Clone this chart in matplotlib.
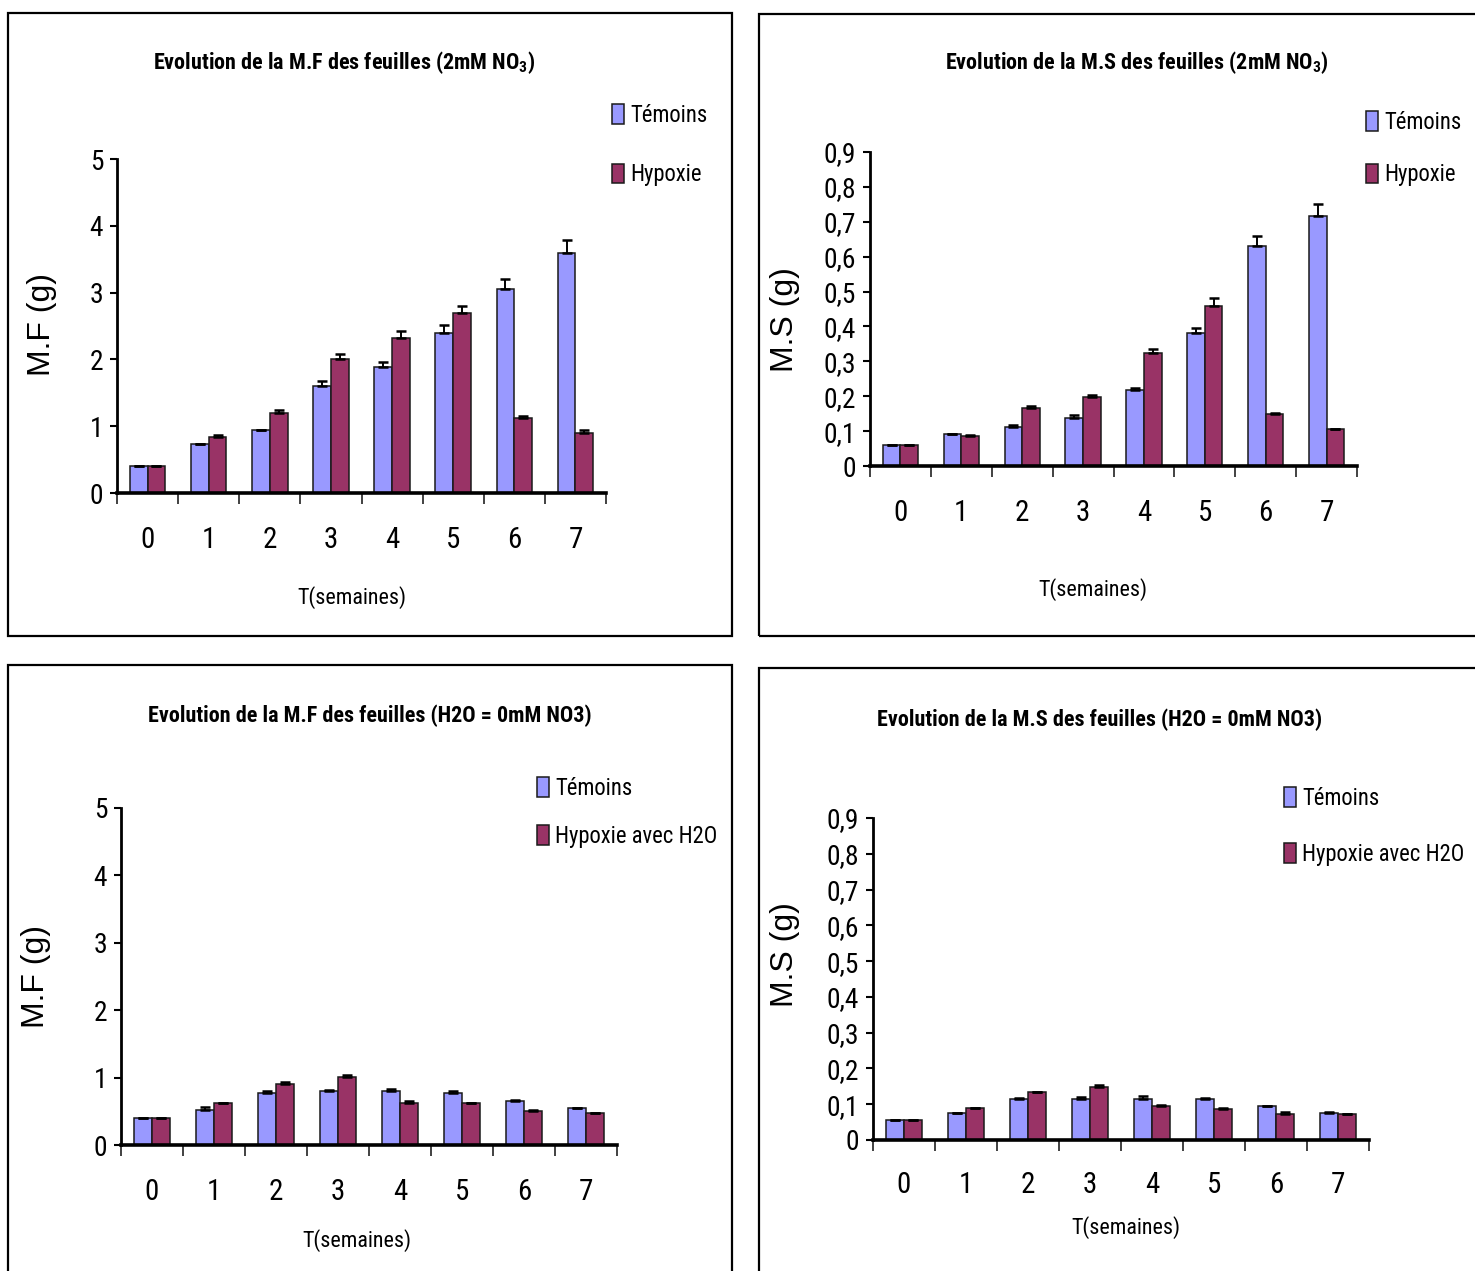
import matplotlib
matplotlib.use("Agg")
import matplotlib.pyplot as plt
import numpy as np
from matplotlib import font_manager
from matplotlib.patches import Rectangle

# ---------- font choice: a condensed sans if available ----------
names = {f.name for f in font_manager.fontManager.ttflist}
NARROW, WF = 'Liberation Sans', 1.0
for cand, wf in [('Liberation Sans Narrow', 0.82), ('Roboto Condensed', 0.86),
                 ('Open Sans Condensed', 0.84), ('Noto Sans Condensed', 0.86)]:
    if cand in names:
        NARROW, WF = cand, wf
        break
REG = 'Liberation Sans'

plt.rcParams['mathtext.fontset'] = 'custom'
plt.rcParams['mathtext.rm'] = NARROW
plt.rcParams['mathtext.bf'] = NARROW + ':bold'

# ---------------- data ----------------
weeks = ['0', '1', '2', '3', '4', '5', '6', '7']

mf_no3_temoins = [0.40, 0.73, 0.94, 1.60, 1.89, 2.39, 3.05, 3.59]
mf_no3_temoins_err = [0.0, 0.01, 0.01, 0.08, 0.07, 0.12, 0.15, 0.19]
mf_no3_hypoxie = [0.40, 0.84, 1.20, 2.00, 2.32, 2.69, 1.13, 0.905]
mf_no3_hypoxie_err = [0.0, 0.03, 0.04, 0.075, 0.11, 0.11, 0.03, 0.035]

ms_no3_temoins = [0.059, 0.091, 0.112, 0.138, 0.217, 0.381, 0.631, 0.717]
ms_no3_temoins_err = [0.0, 0.002, 0.006, 0.007, 0.006, 0.015, 0.027, 0.035]
ms_no3_hypoxie = [0.060, 0.086, 0.165, 0.198, 0.323, 0.460, 0.150, 0.105]
ms_no3_hypoxie_err = [0.0, 0.002, 0.007, 0.006, 0.012, 0.021, 0.003, 0.002]

mf_h2o_temoins = [0.40, 0.52, 0.77, 0.80, 0.80, 0.77, 0.66, 0.55]
mf_h2o_temoins_err = [0.0, 0.04, 0.03, 0.01, 0.03, 0.03, 0.01, 0.005]
mf_h2o_hypoxie = [0.40, 0.62, 0.90, 1.01, 0.62, 0.62, 0.51, 0.47]
mf_h2o_hypoxie_err = [0.0, 0.01, 0.04, 0.03, 0.04, 0.01, 0.01, 0.005]

ms_h2o_temoins = [0.056, 0.076, 0.115, 0.114, 0.115, 0.114, 0.095, 0.076]
ms_h2o_temoins_err = [0.0, 0.0, 0.002, 0.007, 0.007, 0.002, 0.001, 0.001]
ms_h2o_hypoxie = [0.056, 0.089, 0.133, 0.147, 0.095, 0.088, 0.073, 0.072]
ms_h2o_hypoxie_err = [0.0, 0.001, 0.002, 0.006, 0.002, 0.001, 0.004, 0.001]

mf_ticks = [0, 1, 2, 3, 4, 5]
mf_ticklabels = ['0', '1', '2', '3', '4', '5']
ms_ticks = [0, 0.1, 0.2, 0.3, 0.4, 0.5, 0.6, 0.7, 0.8, 0.9]
ms_ticklabels = ['0', '0,1', '0,2', '0,3', '0,4', '0,5', '0,6', '0,7', '0,8', '0,9']

# ---------------- layout ----------------
W, H = 1475, 1271
fig = plt.figure(figsize=(W / 100, H / 100), dpi=100)

def fx(px):
    return px / W

def fy(py):
    return 1 - py / H

def fs(base):
    # base size tuned for a regular-width sans; enlarge for a condensed one
    return base / WF

C_TEM = '#9999FF'
C_HYP = '#993366'

# panel borders
for (x0, y0, x1, y1) in [(8, 13, 732, 636), (759, 14, 1485, 636),
                         (8, 665, 732, 1285), (759, 668, 1485, 1285)]:
    fig.add_artist(Rectangle((fx(x0), fy(y1)), fx(x1) - fx(x0), fy(y0) - fy(y1),
                             transform=fig.transFigure, fill=False,
                             edgecolor='black', linewidth=1.6, zorder=0))

panels = [
    dict(rect=(117, 606, 159, 493), ymax=5, ticks=mf_ticks, tlabels=mf_ticklabels,
         tem=mf_no3_temoins, tem_err=mf_no3_temoins_err,
         hyp=mf_no3_hypoxie, hyp_err=mf_no3_hypoxie_err,
         title=r'Evolution de la M.F des feuilles (2mM NO$_{\mathbf{3}}$)', title_c=(344, 63),
         ylabel='M.F (g)', ylabel_c=(42, 325), xlabel_c=(352, 598), tick_pad=24,
         leg=('Témoins', 'Hypoxie'), leg_xy=(612, 104), leg_sp=1.6),
    dict(rect=(870, 1357, 152, 466), ymax=0.9, ticks=ms_ticks, tlabels=ms_ticklabels,
         tem=ms_no3_temoins, tem_err=ms_no3_temoins_err,
         hyp=ms_no3_hypoxie, hyp_err=ms_no3_hypoxie_err,
         title=r'Evolution de la M.S des feuilles (2mM NO$_{\mathbf{3}}$)', title_c=(1137, 63),
         ylabel='M.S (g)', ylabel_c=(785, 320), xlabel_c=(1093, 590), tick_pad=24,
         leg=('Témoins', 'Hypoxie'), leg_xy=(1366, 111), leg_sp=1.3),
    dict(rect=(121, 617, 808, 1145), ymax=5, ticks=mf_ticks, tlabels=mf_ticklabels,
         tem=mf_h2o_temoins, tem_err=mf_h2o_temoins_err,
         hyp=mf_h2o_hypoxie, hyp_err=mf_h2o_hypoxie_err,
         title='Evolution de la M.F des feuilles (H2O = 0mM NO3)', title_c=(370, 716),
         ylabel='M.F (g)', ylabel_c=(36, 977), xlabel_c=(357, 1241), tick_pad=24,
         leg=('Témoins', 'Hypoxie avec H2O'), leg_xy=(537, 777), leg_sp=1.1),
    dict(rect=(873, 1369, 818, 1140), ymax=0.9, ticks=ms_ticks, tlabels=ms_ticklabels,
         tem=ms_h2o_temoins, tem_err=ms_h2o_temoins_err,
         hyp=ms_h2o_hypoxie, hyp_err=ms_h2o_hypoxie_err,
         title='Evolution de la M.S des feuilles (H2O = 0mM NO3)', title_c=(1100, 720),
         ylabel='M.S (g)', ylabel_c=(785, 955), xlabel_c=(1126, 1228), tick_pad=22,
         leg=('Témoins', 'Hypoxie avec H2O'), leg_xy=(1284, 787), leg_sp=1.45),
]

n = len(weeks)
idx = np.arange(n)
bw = 0.29

for p in panels:
    l, r, t, b = p['rect']
    ax = fig.add_axes([fx(l), fy(b), fx(r) - fx(l), fy(t) - fy(b)])
    ax.set_xlim(0, n)
    ax.set_ylim(0, p['ymax'])
    centers = idx + 0.5
    b1 = ax.bar(centers - bw / 2, p['tem'], width=bw, color=C_TEM,
                edgecolor='#1a1a1a', linewidth=1.1, zorder=2, label=p['leg'][0])
    b2 = ax.bar(centers + bw / 2, p['hyp'], width=bw, color=C_HYP,
                edgecolor='#1a1a1a', linewidth=1.1, zorder=2, label=p['leg'][1])
    zeros = np.zeros(n)
    ax.errorbar(centers - bw / 2, p['tem'], yerr=[zeros, p['tem_err']], fmt='none',
                ecolor='black', elinewidth=1.4, capsize=3.5, capthick=1.8, zorder=3)
    ax.errorbar(centers + bw / 2, p['hyp'], yerr=[zeros, p['hyp_err']], fmt='none',
                ecolor='black', elinewidth=1.4, capsize=3.5, capthick=1.8, zorder=3)

    for s in ['top', 'right']:
        ax.spines[s].set_visible(False)
    ax.spines['bottom'].set_linewidth(2.6)
    ax.spines['left'].set_linewidth(2.0)

    ax.set_yticks(p['ticks'])
    ax.set_yticklabels(p['tlabels'], fontfamily=NARROW, fontsize=fs(17))
    ax.tick_params(axis='y', direction='out', length=5, width=1.5, pad=5)

    ax.set_xticks(centers)
    ax.set_xticklabels(weeks, fontfamily=NARROW, fontsize=fs(18))
    ax.set_xticks(np.arange(n + 1), minor=True)
    ax.tick_params(axis='x', which='major', length=0, pad=p['tick_pad'])
    ax.tick_params(axis='x', which='minor', direction='out', length=8, width=1.3, color='#333333')

    ax.set_xlabel('T(semaines)', fontfamily=NARROW, fontsize=fs(13.6))
    ax.xaxis.set_label_coords(fx(p['xlabel_c'][0]), fy(p['xlabel_c'][1]), transform=fig.transFigure)
    ax.xaxis.label.set_va('center')

    ax.set_ylabel(p['ylabel'], fontfamily=REG, fontsize=23)
    ax.yaxis.set_label_coords(fx(p['ylabel_c'][0]), fy(p['ylabel_c'][1]), transform=fig.transFigure)
    ax.yaxis.label.set_va('center')
    ax.yaxis.label.set_ha('center')

    tx = (p['title_c'][0] - l) / (r - l)
    ty = (b - p['title_c'][1]) / (b - t)
    ax.set_title(p['title'], x=tx, y=ty, va='center', pad=0, fontfamily=NARROW,
                 fontweight='bold', fontsize=fs(13.7))

    ax.legend(handles=[b1, b2], loc='upper left',
              bbox_to_anchor=(fx(p['leg_xy'][0]), fy(p['leg_xy'][1])),
              bbox_transform=fig.transFigure, frameon=False, borderpad=0,
              borderaxespad=0, handlelength=0.55, handleheight=0.95, handletextpad=0.25,
              labelspacing=p['leg_sp'], prop={'family': NARROW, 'size': fs(14)})

fig.savefig('out.png', dpi=100)
